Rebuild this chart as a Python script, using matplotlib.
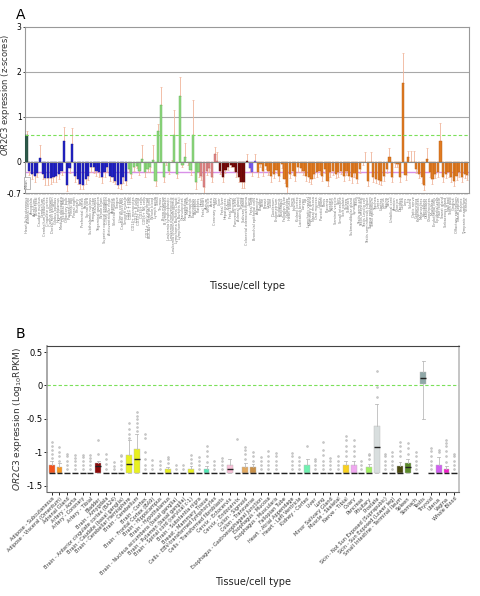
import matplotlib
matplotlib.use("Agg")
import matplotlib.pyplot as plt
import numpy as np

# ---------------- panel A data (z-scores per tissue/cell type) ----------------
lab_dkgreen = ["Heart Subcutaneous"]
z_dkgreen = [0.59]
e_dkgreen = [0.10]

lab_blue = ["Adrenal cortex", "Amygdala", "Astrocytes", "Brain fetal", "Caudate nucleus",
            "Cerebellum", "Cerebellum peduncles", "Cingulate cortex", "Corpus callosum",
            "Dorsal root ganglion", "Globus pallidus", "Hypothalamus", "Medulla oblongata",
            "Occipital lobe", "Olfactory bulb", "Parietal lobe", "Pineal day", "Pineal night",
            "Pituitary", "Pons", "Prefrontal cortex", "Retina", "Spinal cord",
            "Subthalamic nucleus", "Temporal lobe", "Thalamus", "Trigeminal ganglion",
            "Whole brain", "Superior cervical ganglion", "Ciliary ganglion",
            "Atrioventricular node", "Appendix", "Skeletal muscle", "Tongue",
            "Uterus corpus", "Cardiac myocytes", "Smooth muscle"]
z_blue = [-0.20, -0.27, -0.31, -0.25, 0.08, -0.27, -0.37, -0.37, -0.37, -0.35,
          -0.31, -0.27, -0.20, 0.47, -0.53, -0.15, 0.39, -0.31, -0.385, -0.50,
          -0.53, -0.385, -0.31, -0.13, -0.13, -0.20, -0.24, -0.35, -0.24, -0.13,
          -0.31, -0.35, -0.42, -0.53, -0.50, -0.35, -0.44]
e_blue = [0.10, 0.12, 0.14, 0.10, 0.28, 0.12, 0.15, 0.16, 0.12, 0.10,
          0.14, 0.12, 0.10, 0.29, 0.12, 0.10, 0.36, 0.14, 0.12, 0.10,
          0.08, 0.12, 0.10, 0.10, 0.12, 0.12, 0.10, 0.12, 0.10, 0.10,
          0.12, 0.10, 0.08, 0.06, 0.10, 0.12, 0.08]

lab_green = ["CD4+ T cells", "CD8+ T cells", "CD14+ monocytes", "CD19+ B cells",
             "CD33+ myeloid", "CD34+ cells", "CD56+ NK cells", "CD71+ early erythroid",
             "BDCA4+ dendritic cells", "Whole blood", "Lymph node", "Tonsil", "Thymus",
             "Bone marrow", "B lymphoblasts", "Leukemia lymphoblastic",
             "Leukemia promyelocytic", "Leukemia chronic myelogenous",
             "Lymphoma Burkitts Daudi", "Lymphoma Burkitts Raji", "Granulocytes",
             "Macrophages", "Mast cells", "Neutrophils", "Eosinophils", "Basophils",
             "Platelets"]
z_green = [-0.16, -0.27, -0.13, -0.09, -0.20, 0.06, -0.24, -0.16, -0.13, 0.04,
           -0.42, 0.69, 1.26, -0.35, -0.015, -0.20, 0.0, 0.59, -0.27, 1.45,
           -0.07, 0.10, -0.015, -0.19, 0.59, -0.45, -0.24]
e_green = [0.08, 0.10, 0.08, 0.06, 0.10, 0.30, 0.10, 0.08, 0.10, 0.33,
           0.12, 0.14, 0.40, 0.10, 0.06, 0.08, 0.04, 0.56, 0.10, 0.43,
           0.06, 0.31, 0.05, 0.10, 0.79, 0.15, 0.10]

lab_salmon = ["Heart", "Fetal heart", "Atrium", "Ventricle", "Aorta", "Coronary artery", "Vein"]
z_salmon = [-0.31, -0.57, -0.20, -0.15, -0.35, 0.17, 0.02]
e_salmon = [0.10, 0.12, 0.10, 0.08, 0.10, 0.15, 0.19]

lab_dkred = ["Liver", "Fetal liver", "Hepatocytes", "Kidney", "Fetal kidney", "Pancreas",
             "Pancreatic islets", "Adrenal gland", "Thyroid", "Salivary gland",
             "Colorectal adenocarcinoma"]
z_dkred = [-0.20, -0.35, -0.18, -0.13, -0.07, -0.13, -0.24, -0.35, -0.46, -0.46, 0.01]
e_dkred = [0.08, 0.10, 0.08, 0.06, 0.06, 0.08, 0.10, 0.10, 0.12, 0.12, 0.16]

lab_purple = ["Lung", "Fetal lung", "Bronchial epithelial cells"]
z_purple = [-0.15, -0.24, 0.01]
e_purple = [0.06, 0.08, 0.16]

lab_orange = ["Adipocyte", "Bladder", "Bone", "Breast", "Cervix", "Colon", "Duodenum",
              "Endometrium", "Epididymis", "Esophagus", "Fallopian tube", "Gallbladder",
              "Heart muscle", "Ileum", "Jejunum", "Kidney cortex", "Lactating breast",
              "Larynx", "Lip", "Lymphatic vessel", "Mammary gland", "Nasal mucosa",
              "Oral mucosa", "Ovary", "Parotid gland", "Penis", "Placenta", "Prostate",
              "Rectum", "Seminal vesicle", "Skin", "Small intestine", "Soft palate",
              "Spleen", "Stomach", "Submandibular gland", "Synovium", "Testis",
              "Testis germ cell", "Testis interstitial", "Testis Leydig cell",
              "Testis seminiferous tubule", "Tongue epithelium", "Tonsil epithelium",
              "Trachea", "Ureter", "Urethra", "Uterus", "Vagina", "Vulva",
              "Umbilical cord", "Amnion", "Chorion", "Decidua", "Cornea", "Lens", "Iris",
              "Sclera", "Optic nerve", "Conjunctiva", "Keratinocytes", "Melanocytes",
              "Fibroblasts", "Osteoblasts", "Chondrocytes", "Myoblasts",
              "Endothelial cells", "Epithelial cells", "Hair follicle", "Sweat gland",
              "Sebaceous gland", "Nail bed", "Tooth pulp", "Gingiva",
              "Olfactory epithelium", "Nasal septum", "Pharynx", "Tympanic membrane",
              "Vitreous"]
z_orange = [-0.24, -0.05, -0.20, -0.09, -0.20, -0.31, -0.27, -0.18, -0.31, -0.05,
            -0.385, -0.57, -0.27, -0.20, -0.31, -0.13, -0.15, -0.20, -0.31, -0.35,
            -0.385, -0.27, -0.24, -0.20, -0.31, -0.16, -0.42, -0.24, -0.20, -0.27,
            -0.24, -0.20, -0.31, -0.20, -0.31, -0.35, -0.25, -0.385, -0.16, -0.015,
            0.0, -0.44, 0.0, -0.35, -0.385, -0.40, -0.42, -0.31, -0.16, 0.11,
            -0.35, -0.04, -0.05, -0.35, 1.75, -0.30, 0.10, 0.0, 0.0, -0.16,
            -0.27, -0.35, -0.52, 0.06, -0.24, -0.385, -0.27, -0.24, 0.47, -0.35,
            -0.27, -0.22, -0.35, -0.42, -0.31, -0.24, -0.35, -0.27, -0.30]
e_orange = [0.10, 0.08, 0.12, 0.08, 0.10, 0.14, 0.10, 0.08, 0.12, 0.10,
            0.10, 0.12, 0.10, 0.10, 0.12, 0.10, 0.08, 0.10, 0.12, 0.10,
            0.12, 0.10, 0.10, 0.08, 0.12, 0.10, 0.12, 0.10, 0.10, 0.10,
            0.10, 0.08, 0.12, 0.10, 0.10, 0.12, 0.10, 0.10, 0.10, 0.05,
            0.22, 0.10, 0.22, 0.10, 0.10, 0.10, 0.10, 0.12, 0.10, 0.19,
            0.10, 0.08, 0.08, 0.10, 0.67, 0.10, 0.14, 0.24, 0.24, 0.10,
            0.10, 0.12, 0.10, 0.24, 0.10, 0.12, 0.10, 0.10, 0.39, 0.10,
            0.10, 0.12, 0.10, 0.12, 0.10, 0.10, 0.10, 0.10, 0.10]

z_threshold = 0.59
z_median = -0.24

# ---------------- panel B data (GTEx log10 RPKM) ----------------
tissues = ["Adipose - Subcutaneous", "Adipose - Visceral (Omentum)", "Adrenal Gland",
           "Artery - Aorta", "Artery - Coronary", "Artery - Tibial", "Bladder",
           "Brain - Amygdala", "Brain - Anterior cingulate cortex (BA24)",
           "Brain - Caudate (basal ganglia)", "Brain - Cerebellar Hemisphere",
           "Brain - Cerebellum", "Brain - Cortex", "Brain - Frontal Cortex (BA9)",
           "Brain - Hippocampus", "Brain - Hypothalamus",
           "Brain - Nucleus accumbens (basal ganglia)", "Brain - Putamen (basal ganglia)",
           "Brain - Spinal cord (cervical c-1)", "Brain - Substantia nigra",
           "Breast - Mammary Tissue", "Cells - EBV-transformed lymphocytes",
           "Cells - Transformed fibroblasts", "Cervix - Ectocervix", "Cervix - Endocervix",
           "Colon - Sigmoid", "Colon - Transverse",
           "Esophagus - Gastroesophageal Junction", "Esophagus - Mucosa",
           "Esophagus - Muscularis", "Fallopian Tube", "Heart - Atrial Appendage",
           "Heart - Left Ventricle", "Kidney - Cortex", "Liver", "Lung",
           "Minor Salivary Gland", "Muscle - Skeletal", "Nerve - Tibial", "Ovary",
           "Pancreas", "Pituitary", "Prostate", "Skin - Not Sun Exposed (Suprapubic)",
           "Skin - Sun Exposed (Lower leg)", "Small Intestine - Terminal Ileum", "Spleen",
           "Stomach", "Testis", "Thyroid", "Uterus", "Vagina", "Whole Blood"]
box_colors = ["#F0541E", "#F5961E", "#E8E8E8", "#E8E8E8", "#E8E8E8", "#E8E8E8", "#8B0A0A",
              "#E8F020", "#E8F020", "#E8F020", "#E8F020", "#E8F020", "#E8F020", "#E8F020",
              "#E8F020", "#E8F020", "#E8F020", "#E8F020", "#E8F020", "#E8F020",
              "#50E6B4", "#E8E8E8", "#E8E8E8", "#F8C0D8", "#F8C0D8", "#E0A860", "#C89048",
              "#E8E8E8", "#E8E8E8", "#E8E8E8", "#E8E8E8", "#E8E8E8", "#E8E8E8", "#70F0B0",
              "#E8E8E8", "#E8E8E8", "#E8E8E8", "#E8E8E8", "#F8D020", "#F0A8F0",
              "#E8E8E8", "#A0F060", "#D8DEDE", "#E8E8E8", "#E8E8E8", "#4A4A10", "#5A8A2A",
              "#E8E8E8", "#90A8A8", "#E8E8E8", "#D060F0", "#F020C8", "#E8E8E8"]
q1 = [-1.3] * 48 + [0.015] + [-1.3] * 4
med = [-1.3, -1.3, -1.3, -1.3, -1.3, -1.3, -1.20, -1.3, -1.3, -1.3, -1.17, -1.10, -1.3,
       -1.3, -1.3, -1.3, -1.3, -1.3, -1.3, -1.3, -1.3, -1.3, -1.3, -1.24, -1.3, -1.3,
       -1.3, -1.3, -1.3, -1.3, -1.3, -1.3, -1.3, -1.3, -1.3, -1.3, -1.3, -1.3, -1.3,
       -1.3, -1.3, -1.3, -0.925, -1.3, -1.3, -1.3, -1.22, -1.3, 0.11, -1.3, -1.3, -1.3,
       -1.3]
q3 = [-1.19, -1.21, -1.3, -1.3, -1.3, -1.3, -1.15, -1.3, -1.3, -1.3, -1.045, -0.955, -1.3,
      -1.3, -1.3, -1.25, -1.3, -1.3, -1.24, -1.3, -1.24, -1.3, -1.3, -1.18, -1.3, -1.21,
      -1.22, -1.3, -1.3, -1.3, -1.3, -1.3, -1.3, -1.19, -1.3, -1.3, -1.3, -1.3, -1.18,
      -1.18, -1.3, -1.22, -0.60, -1.3, -1.3, -1.20, -1.16, -1.3, 0.20, -1.3, -1.19, -1.24,
      -1.3]
whislo = [-1.3] * 48 + [-0.50] + [-1.3] * 4
whishi = [-1.12, -1.16, -1.3, -1.3, -1.3, -1.3, -1.12, -1.3, -1.3, -1.3, -0.82, -0.72, -1.3,
          -1.3, -1.3, -1.22, -1.3, -1.3, -1.2, -1.3, -1.2, -1.3, -1.3, -1.09, -1.3, -1.16,
          -1.17, -1.3, -1.3, -1.3, -1.3, -1.3, -1.3, -1.09, -1.3, -1.3, -1.3, -1.3, -1.12,
          -1.12, -1.3, -1.17, -0.28, -1.3, -1.3, -1.14, -1.1, -1.3, 0.37, -1.3, -1.07, -1.2,
          -1.3]
fliers = [
    [-1.08, -1.02, -0.96, -0.90, -0.85],
    [-1.12, -1.06, -1.00, -0.92],
    [-1.24, -1.18, -1.12, -1.06, -1.02],
    [-1.24, -1.18, -1.12, -1.08, -1.04],
    [-1.24, -1.18, -1.12, -1.07, -1.04],
    [-1.24, -1.19, -1.13, -1.08, -1.04],
    [-1.02, -0.82],
    [-1.24, -1.17, -1.10, -1.03],
    [-1.25, -1.20, -1.14],
    [-1.24, -1.18, -1.12, -1.06, -1.04],
    [-0.78, -0.72, -0.65, -0.56],
    [-0.68, -0.62, -0.56, -0.50, -0.45, -0.40],
    [-1.24, -1.18, -1.10, -1.00, -0.78, -0.72],
    [-1.24, -1.18, -1.11],
    [-1.24, -1.18, -1.12],
    [-1.16, -1.10, -1.07],
    [-1.24, -1.18],
    [-1.24, -1.18],
    [-1.16, -1.10, -1.04],
    [-1.24, -1.18, -1.12, -1.07],
    [-1.14, -1.06, -0.98, -0.90],
    [-1.24, -1.18, -1.12],
    [-1.24, -1.18, -1.12, -1.08],
    [],
    [-0.80],
    [-1.10, -1.02, -0.96, -0.92],
    [-1.12, -1.06, -1.00],
    [-1.24, -1.18, -1.12, -1.07],
    [-1.24, -1.18, -1.12, -1.05, -0.98],
    [-1.24, -1.18, -1.12, -1.05, -1.01],
    [],
    [-1.24, -1.18, -1.12, -1.06, -1.01],
    [-1.24, -1.18, -1.12, -1.07],
    [-0.91],
    [-1.24, -1.18, -1.12, -1.09],
    [-1.24, -1.18, -1.12, -1.04, -0.96, -0.85],
    [-1.24, -1.18, -1.12, -1.08],
    [-1.24, -1.18, -1.12, -1.05],
    [-1.06, -0.98, -0.90, -0.82, -0.75],
    [-1.06, -0.98, -0.90, -0.82],
    [-1.24, -1.18, -1.12],
    [-1.10, -1.04, -1.02],
    [-0.17, -0.02, 0.21],
    [-1.24, -1.18, -1.12, -1.06, -1.02],
    [-1.24, -1.18, -1.12, -1.06, -1.00],
    [-1.06, -0.98, -0.90, -0.85],
    [-1.02, -0.94, -0.86],
    [-1.24, -1.18, -1.12, -1.05, -1.00],
    [],
    [-1.24, -1.18, -1.12, -1.05, -0.98, -0.94],
    [-1.00, -0.97],
    [-1.14, -1.06, -0.98, -0.90, -0.86, -0.81],
    [-1.24, -1.18, -1.12, -1.06, -1.02],
]
rpkm_threshold = 0.0

# ---------------- figure ----------------
fig = plt.figure(figsize=(4.8, 5.96), dpi=100)
ax1 = fig.add_axes([0.052, 0.676, 0.925, 0.279])
ax2 = fig.add_axes([0.098, 0.1745, 0.858, 0.245])

groups = [
    (lab_dkgreen, z_dkgreen, e_dkgreen, "#2E5A4A", "#1E3E32"),
    (lab_blue, z_blue, e_blue, "#2323C8", "#16168E"),
    (lab_green, z_green, e_green, "#8FD880", "#5FAE52"),
    (lab_salmon, z_salmon, e_salmon, "#E08888", "#B86060"),
    (lab_dkred, z_dkred, e_dkred, "#7A0A0A", "#500606"),
    (lab_purple, z_purple, e_purple, "#7E60F0", "#5A40C8"),
    (lab_orange, z_orange, e_orange, "#E07B22", "#B85E12"),
]
labels_a = []
start = 0
for labs, vals, errs, col, edge in groups:
    vals = np.array(vals)
    errs = np.array(errs)
    x = np.arange(start, start + len(vals))
    ax1.bar(x, vals, width=0.82, color=col, edgecolor=edge, linewidth=0.3, zorder=3)
    lower = np.where(vals < 0, errs, 0)
    upper = np.where(vals >= 0, errs, 0)
    ax1.errorbar(x, vals, yerr=[lower, upper], fmt="none", ecolor="#F0B49A",
                 elinewidth=0.6, capsize=1.0, capthick=0.5, zorder=2)
    labels_a += labs
    start += len(vals)

n_a = len(labels_a)
ax1.set_xlim(-0.6, n_a - 0.4)
ax1.set_ylim(-0.7, 3)
ax1.set_yticks([-0.7, 0, 1, 2, 3])
ax1.set_yticklabels(["-0.7", "0", "1", "2", "3"], fontsize=5.5)
for g in [1, 2]:
    ax1.axhline(g, color="#A8A8A8", lw=0.8, zorder=1)
ax1.axhline(0, color="#8A8A8A", lw=0.8, zorder=4)
ax1.axhline(z_threshold, color="#7BE05A", lw=0.8, ls=(0, (3, 2)), zorder=5)
ax1.axhline(z_median, color="#D890E8", lw=1.0, zorder=1)
ax1.set_xticks(np.arange(n_a))
ax1.set_xticklabels(labels_a, rotation=90, fontsize=2.5, color="#555555")
ax1.tick_params(axis="x", length=1.5, width=0.3, pad=1, colors="#777777")
ax1.tick_params(axis="y", length=1.5, width=0.5, pad=1)
for sp in ax1.spines.values():
    sp.set_color("#999999")
    sp.set_linewidth(0.8)
ax1.text(0.0, -0.47, "Mean", rotation=90, fontsize=2.5, ha="center", va="center",
         color="#666666", bbox=dict(boxstyle="square,pad=0.3", fc="white", ec="#888888", lw=0.4),
         zorder=6)
ax1.set_ylabel(r"$\it{OR2C3}$ expression (z-scores)", fontsize=6, color="#333333")
ax1.yaxis.set_label_coords(-0.03, 0.59)
ax1.set_xlabel("Tissue/cell type", fontsize=7, color="#222222")
ax1.xaxis.set_label_coords(0.5, -0.53)

# panel B boxes
stats = []
for i in range(len(tissues)):
    stats.append(dict(med=med[i], q1=q1[i], q3=q3[i], whislo=whislo[i], whishi=whishi[i],
                      fliers=fliers[i], label=tissues[i]))
pos = np.arange(1, len(tissues) + 1)
bp = ax2.bxp(stats, positions=pos, widths=0.75, patch_artist=True,
             boxprops=dict(linewidth=0.3, edgecolor="#BBBBBB"),
             medianprops=dict(color="#222222", linewidth=1.0),
             whiskerprops=dict(color="#BBBBBB", linewidth=0.6),
             capprops=dict(color="#BBBBBB", linewidth=0.6),
             flierprops=dict(marker="o", markersize=1.4, markerfacecolor="#C8C8C8",
                             markeredgecolor="#B0B0B0", markeredgewidth=0.3))
for patch, col in zip(bp["boxes"], box_colors):
    patch.set_facecolor(col)
ax2.axhline(rpkm_threshold, color="#7BE05A", lw=0.8, ls=(0, (3, 2)), zorder=1)
ax2.set_xlim(0.4, len(tissues) + 0.6)
ax2.set_ylim(-1.59, 0.59)
ax2.set_yticks([0.5, 0, -0.5, -1, -1.5])
ax2.set_yticklabels(["0.5", "0", "-0.5", "-1", "-1.5"], fontsize=6)
ax2.set_xticks(pos)
ax2.set_xticklabels(tissues, rotation=45, ha="right", rotation_mode="anchor",
                    fontsize=3.6, color="#333333")
ax2.tick_params(axis="x", length=2, width=0.6, pad=1)
ax2.tick_params(axis="y", length=2, width=0.6, pad=1)
ax2.spines["top"].set_color("#444444")
ax2.spines["left"].set_color("#999999")
ax2.spines["left"].set_linewidth(1.2)
ax2.spines["right"].set_color("#BBBBBB")
ax2.spines["right"].set_linewidth(1.2)
ax2.spines["bottom"].set_color("#666666")
ax2.set_ylabel(r"$\it{OR2C3}$ expression (Log$_{10}$RPKM)", fontsize=6.5, labelpad=2,
               color="#333333")
ax2.set_xlabel("Tissue/cell type", fontsize=7, color="#222222")
ax2.xaxis.set_label_coords(0.5, -0.58)

fig.text(0.042, 0.975, "A", fontsize=10, va="center", ha="center")
fig.text(0.042, 0.44, "B", fontsize=10, va="center", ha="center")

fig.savefig("out.png", dpi=100)
